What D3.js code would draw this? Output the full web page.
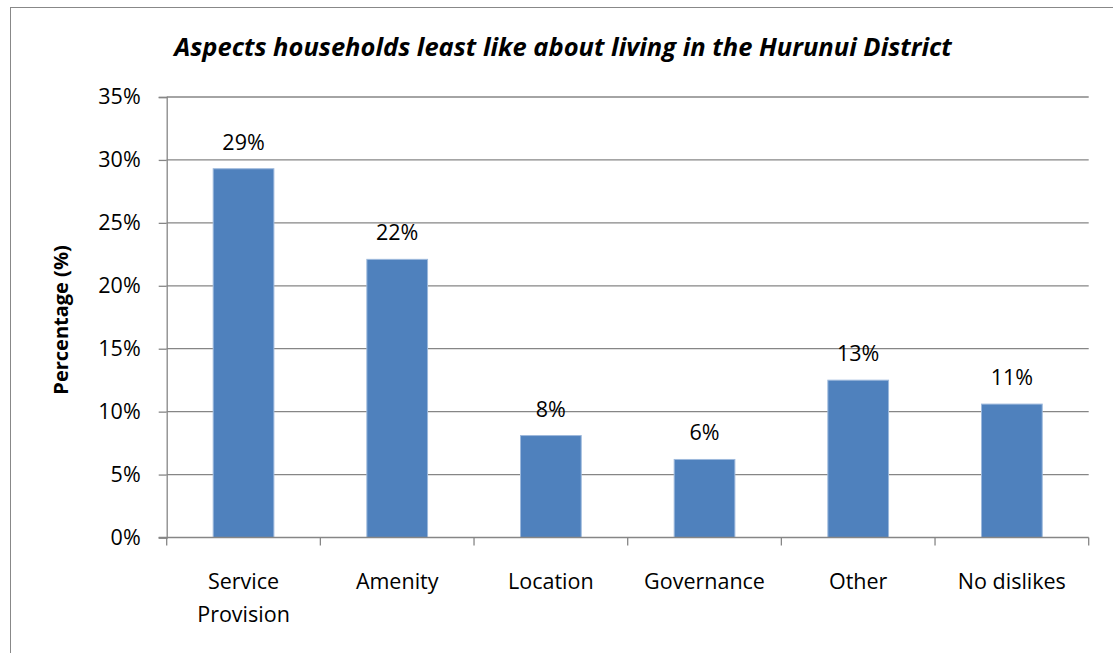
<!DOCTYPE html>
<html>
<head>
<meta charset="utf-8">
<script src="https://cdn.jsdelivr.net/npm/d3@7"></script>
<style>
  html, body { margin: 0; padding: 0; background: #fff; }
  svg { display: block; }
  text { font-family: "Open Sans", Lato, sans-serif; fill: #000; }
</style>
</head>
<body>
<svg id="chart" width="1113" height="653"></svg>
<script>
// Survey results: what households least like about living in the district
const categories = ["Service Provision", "Amenity", "Location", "Governance", "Other", "No dislikes"];
const categoryLines = [["Service", "Provision"], ["Amenity"], ["Location"], ["Governance"], ["Other"], ["No dislikes"]];
const values = [0.293, 0.221, 0.081, 0.062, 0.125, 0.106];
const valueLabels = ["29%", "22%", "8%", "6%", "13%", "11%"];
const yTicks = [0, 0.05, 0.10, 0.15, 0.20, 0.25, 0.30, 0.35];

const svg = d3.select("#chart");
const plot = { left: 166.7, right: 1088.7, top: 97, bottom: 537.5 };
const FONT = "'Open Sans', Lato, sans-serif";
const LABEL_SIZE = 21.5;

// chart-area frame
svg.append("rect")
  .attr("x", 10.5).attr("y", 7.5)
  .attr("width", 1120).attr("height", 670)
  .attr("fill", "#fff").attr("stroke", "#888").attr("stroke-width", 1);

const x = d3.scaleBand()
  .domain(categories)
  .range([plot.left, plot.right])
  .paddingInner(0.605)
  .paddingOuter(0.3025);

const y = d3.scaleLinear()
  .domain([0, 0.35])
  .range([plot.bottom, plot.top]);

// horizontal gridlines
svg.append("g")
  .selectAll("line")
  .data(yTicks.filter(d => d > 0))
  .join("line")
  .attr("x1", plot.left).attr("x2", plot.right)
  .attr("y1", d => y(d)).attr("y2", d => y(d))
  .attr("stroke", "#868686").attr("stroke-width", 1.3);

// y axis
const yAxis = svg.append("g")
  .attr("transform", `translate(${plot.left},0)`)
  .call(d3.axisLeft(y).tickValues(yTicks).tickFormat(d3.format(".0%")).tickSize(8).tickPadding(18));
yAxis.select(".domain").attr("stroke", "#868686").attr("stroke-width", 1.3);
yAxis.selectAll(".tick line").attr("stroke", "#868686").attr("stroke-width", 1.3);
yAxis.selectAll(".tick text")
  .attr("font-family", FONT)
  .attr("font-size", LABEL_SIZE).attr("fill", "#000");

// bars
svg.append("g")
  .selectAll("rect")
  .data(categories)
  .join("rect")
  .attr("x", d => x(d))
  .attr("y", (d, i) => y(values[i]))
  .attr("width", x.bandwidth())
  .attr("height", (d, i) => y(0) - y(values[i]))
  .attr("fill", "#4F81BD")
  .attr("stroke", "#9DB9DC").attr("stroke-width", 1);

// x axis line and category boundary ticks
const step = x.step();
const edge = step * x.paddingOuter();
const boundaries = categories.map(c => x(c) - edge).concat([plot.right]);
svg.append("line")
  .attr("x1", plot.left - 8).attr("x2", plot.right)
  .attr("y1", plot.bottom).attr("y2", plot.bottom)
  .attr("stroke", "#868686").attr("stroke-width", 1.3);
svg.append("g")
  .selectAll("line")
  .data(boundaries)
  .join("line")
  .attr("x1", d => d).attr("x2", d => d)
  .attr("y1", plot.bottom).attr("y2", plot.bottom + 8)
  .attr("stroke", "#868686").attr("stroke-width", 1.3);

// category labels
const catG = svg.append("g");
categories.forEach((c, i) => {
  const t = catG.append("text")
    .attr("x", x(c) + x.bandwidth() / 2)
    .attr("y", 589)
    .attr("text-anchor", "middle")
    .attr("font-size", LABEL_SIZE);
  categoryLines[i].forEach((line, j) => {
    t.append("tspan")
      .attr("x", x(c) + x.bandwidth() / 2)
      .attr("dy", j === 0 ? 0 : 33)
      .text(line);
  });
});

// value labels above bars
svg.append("g")
  .selectAll("text")
  .data(categories)
  .join("text")
  .attr("x", d => x(d) + x.bandwidth() / 2)
  .attr("y", (d, i) => y(values[i]) - 19)
  .attr("text-anchor", "middle")
  .attr("font-size", LABEL_SIZE)
  .text((d, i) => valueLabels[i]);

// y axis title
svg.append("text")
  .attr("transform", "translate(68,320) rotate(-90)")
  .attr("text-anchor", "middle")
  .attr("font-size", 20)
  .attr("font-weight", "bold")
  .text("Percentage (%)");

// chart title
svg.append("text")
  .attr("x", 563)
  .attr("y", 56)
  .attr("text-anchor", "middle")
  .attr("font-size", 25.5)
  .attr("font-weight", "bold")
  .attr("font-style", "italic")
  .text("Aspects households least like about living in the Hurunui District");
</script>
</body>
</html>
